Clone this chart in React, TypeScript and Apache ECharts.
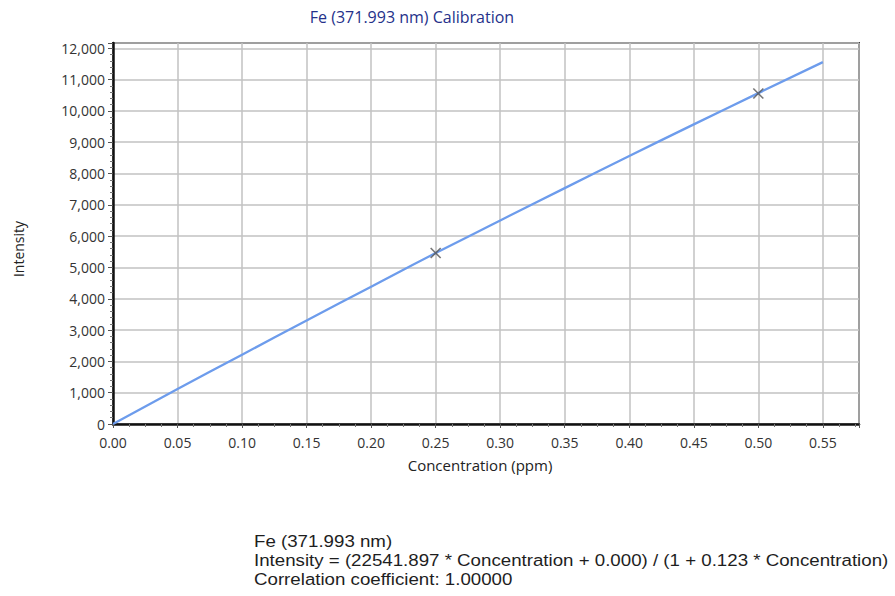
import React, { useEffect, useRef } from "react";
import * as echarts from "echarts";

// Calibration curve samples (concentration in ppm, intensity)
const curveConc = [0, 0.05, 0.1, 0.15, 0.2, 0.25, 0.3, 0.35, 0.4, 0.45, 0.5, 0.55];
const curveIntensity = [0, 1115, 2215, 3305, 4385, 5460, 6500, 7535, 8560, 9570, 10570, 11560];

// Measured standards
const standardConc = [0.25, 0.5];
const standardIntensity = [5462, 10558];

const titleText = "Fe (371.993 nm) Calibration";
const xAxisTitle = "Concentration (ppm)";
const yAxisTitle = "Intensity";
const summaryLines = [
  "Fe (371.993 nm)",
  "Intensity = (22541.897 * Concentration + 0.000) / (1 + 0.123 * Concentration)",
  "Correlation coefficient: 1.00000",
];

const uiFont = "'Open Sans', 'Noto Sans', sans-serif";

export default function App() {
  const ref = useRef<HTMLDivElement>(null);

  useEffect(() => {
    if (!ref.current) return;
    const chart = echarts.init(ref.current, undefined, { renderer: "svg" });

    const curveData = curveConc.map((c, i) => [c, curveIntensity[i]]);
    const standardData = standardConc.map((c, i) => [c, standardIntensity[i]]);

    chart.setOption({
      animation: false,
      backgroundColor: "#ffffff",
      grid: {
        left: 113,
        top: 43,
        right: 36,
        bottom: 172,
        show: true,
        borderColor: "#3a3a3a",
        borderWidth: 2,
        backgroundColor: "#ffffff",
      },
      xAxis: {
        type: "value",
        min: 0,
        max: 0.578,
        interval: 0.05,
        axisLine: { show: true, onZero: false, lineStyle: { color: "#111111", width: 2.5 } },
        axisTick: { show: true, length: 4, lineStyle: { color: "#555555", width: 1 } },
        minorTick: { show: true, splitNumber: 4, length: 3, lineStyle: { color: "#777777", width: 1 } },
        axisLabel: {
          fontFamily: uiFont,
          fontSize: 14,
          lineHeight: 14,
          color: "#333333",
          margin: 11,
          showMaxLabel: false,
          formatter: (v: number) => v.toFixed(2),
        },
        splitLine: { show: true, lineStyle: { color: "#c2c2c2", width: 1.5 } },
      },
      yAxis: {
        type: "value",
        min: 0,
        max: 12170,
        interval: 1000,
        axisLine: { show: true, lineStyle: { color: "#111111", width: 2.5 } },
        axisTick: { show: true, length: 5, lineStyle: { color: "#555555", width: 1 } },
        minorTick: { show: true, splitNumber: 5, length: 3, lineStyle: { color: "#777777", width: 1 } },
        axisLabel: {
          fontFamily: uiFont,
          fontSize: 14,
          lineHeight: 14,
          color: "#333333",
          margin: 8,
          showMaxLabel: false,
          formatter: (v: number) => v.toLocaleString("en-US"),
        },
        splitLine: { show: true, lineStyle: { color: "#c2c2c2", width: 1.5 } },
      },
      series: [
        {
          type: "line",
          data: curveData,
          showSymbol: false,
          smooth: true,
          lineStyle: { color: "#6d9cec", width: 2.3 },
          z: 3,
        },
        {
          type: "scatter",
          data: standardData,
          symbol: "path://M0,0L10,10M10,0L0,10",
          symbolSize: 10,
          itemStyle: { color: "none", borderColor: "#555555", borderWidth: 1.6 },
          z: 4,
        },
      ],
      graphic: [
        {
          type: "text",
          x: 412,
          y: 17,
          style: {
            text: titleText,
            font: `16px ${uiFont}`,
            fill: "#25318a",
            align: "center",
            verticalAlign: "middle",
          },
        },
        {
          type: "text",
          x: 480,
          y: 465,
          style: {
            text: xAxisTitle,
            font: `15px ${uiFont}`,
            fill: "#222222",
            align: "center",
            verticalAlign: "middle",
          },
        },
        {
          type: "text",
          x: 18,
          y: 249,
          rotation: Math.PI / 2,
          style: {
            text: yAxisTitle,
            font: `14px ${uiFont}`,
            fill: "#222222",
            align: "center",
            verticalAlign: "middle",
          },
        },
        ...summaryLines.map((line, i) => ({
          type: "text",
          x: 254,
          y: 541 + i * 19,
          scaleX: 1.1,
          style: {
            text: line,
            font: "17px 'Liberation Sans', Arial, sans-serif",
            fill: "#1e1e1e",
            align: "left",
            verticalAlign: "middle",
          },
        })),
      ],
    });

    return () => chart.dispose();
  }, []);

  return <div ref={ref} style={{ width: 895, height: 596, position: "absolute", left: 0, top: 0 }} />;
}
